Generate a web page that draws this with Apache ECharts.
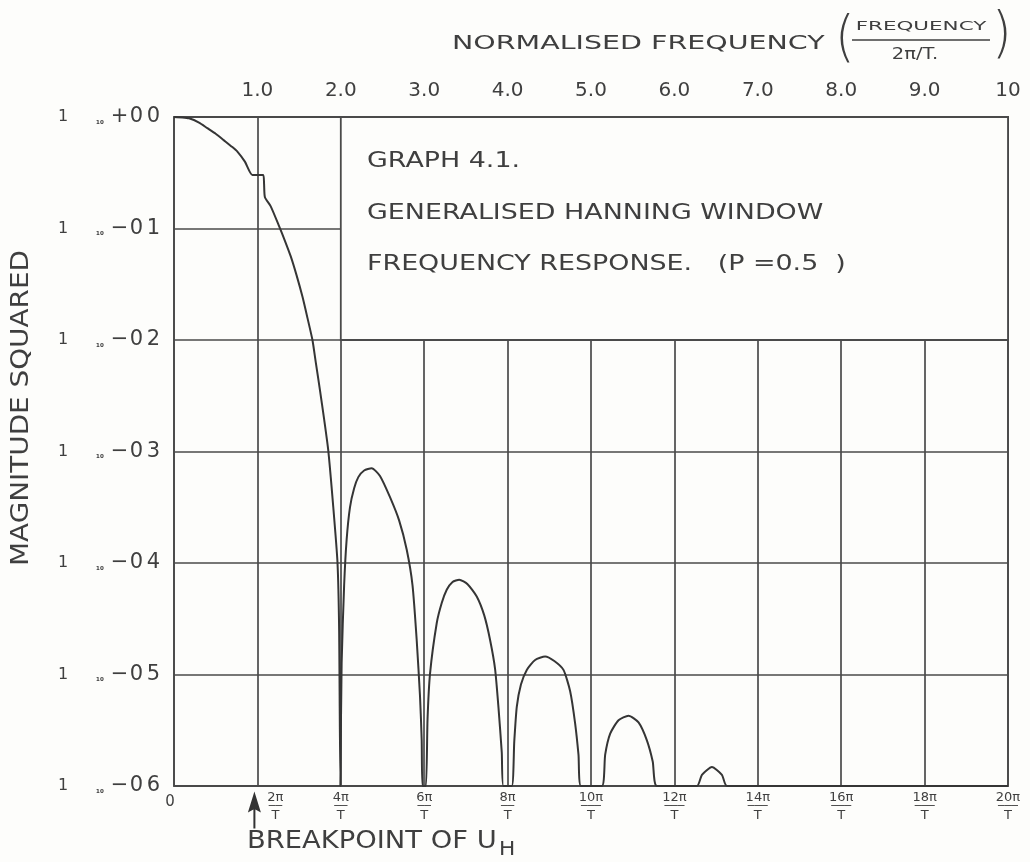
<!DOCTYPE html>
<html>
<head>
<meta charset="utf-8">
<script src="https://cdn.jsdelivr.net/npm/echarts@6/dist/echarts.min.js"></script>
<style>
  html, body { margin: 0; padding: 0; background: #fdfdfb; }
  #chart { width: 1030px; height: 862px; }
</style>
</head>
<body>
<div id="chart"></div>
<script>
// Normalised frequency (units of 2π/T) and magnitude squared of the window response
const freq = [
  0.00, 0.10, 0.18, 0.30, 0.40, 0.50, 0.60, 0.70, 0.76, 0.85, 0.94,
  1.07, 1.08, 1.09, 1.16, 1.26, 1.33, 1.40, 1.47, 1.54, 1.60, 1.66, 1.70,
  1.75, 1.80, 1.85, 1.91, 1.96, 1.98, 1.995, 2.00,
  2.01, 2.04, 2.07, 2.11, 2.16, 2.21, 2.28, 2.37, 2.47, 2.59, 2.70, 2.79,
  2.86, 2.91, 2.95, 2.97, 2.98,
  3.02, 3.04, 3.07, 3.15, 3.21, 3.27, 3.34, 3.42, 3.52, 3.63, 3.72, 3.79,
  3.85, 3.89, 3.93, 3.95,
  4.05, 4.08, 4.11, 4.16, 4.23, 4.33, 4.45, 4.56, 4.67, 4.75, 4.81, 4.85, 4.88,
  5.13, 5.17, 5.23, 5.33, 5.45, 5.57, 5.67, 5.74, 5.79,
  6.27, 6.33, 6.45, 6.57, 6.63,
  10.00
];
const magSq = [
  1.0, 0.991, 0.973, 0.891, 0.794, 0.708, 0.617, 0.537, 0.490, 0.398, 0.302,
  0.302, 0.251, 0.191, 0.158, 0.105, 0.0776, 0.0562, 0.0380, 0.0245, 0.0158, 0.0100, 0.00631,
  0.00355, 0.00195, 0.00102, 3.16e-4, 1.02e-4, 2.51e-5, 1e-6, 1e-6,
  1.26e-5, 6.31e-5, 1.62e-4, 3.16e-4, 4.68e-4, 5.89e-4, 6.76e-4, 7.08e-4, 6.03e-4, 3.89e-4, 2.40e-4, 1.32e-4,
  6.31e-5, 2.04e-5, 6.31e-6, 2.57e-6, 1e-6,
  1e-6, 3.98e-6, 1.02e-5, 2.88e-5, 4.37e-5, 5.75e-5, 6.76e-5, 7.08e-5, 6.46e-5, 5.01e-5, 3.39e-5, 2.04e-5,
  1.12e-5, 5.13e-6, 2.00e-6, 1e-6,
  1e-6, 2.51e-6, 5.13e-6, 8.13e-6, 1.10e-5, 1.35e-5, 1.45e-5, 1.32e-5, 1.10e-5, 7.08e-6, 3.63e-6, 1.91e-6, 1e-6,
  1e-6, 1.91e-6, 2.95e-6, 3.89e-6, 4.27e-6, 3.72e-6, 2.57e-6, 1.66e-6, 1e-6,
  1e-6, 1.26e-6, 1.48e-6, 1.26e-6, 1e-6,
  1e-6
];

// Tick labels
const topTickLabels = ['', '1.0', '2.0', '3.0', '4.0', '5.0', '6.0', '7.0', '8.0', '9.0', '10'];
const bottomNumerators = ['0', '2π', '4π', '6π', '8π', '10π', '12π', '14π', '16π', '18π', '20π'];
const bottomDenominator = 'T';
const yExponentLabels = { '-6': '−06', '-5': '−05', '-4': '−04', '-3': '−03', '-2': '−02', '-1': '−01', '0': '+00' };

// Breakpoint of U_H, in normalised frequency
const breakpoint = 1.0;

const INK = '#3f3f3f';
const LINE = '#4a4a4a';
const PAPER = '#fdfdfb';
const FONT = '"DejaVu Sans", "Liberation Sans", sans-serif';

const chart = echarts.init(document.getElementById('chart'));

const fracRich = {
  n: { fontSize: 13, fontFamily: FONT, color: INK, lineHeight: 13 },
  b: { fontSize: 11, fontFamily: FONT, color: INK, lineHeight: 5 },
  d: { fontSize: 13, fontFamily: FONT, color: INK, lineHeight: 13 },
  ns: { fontSize: 13, fontFamily: FONT, color: INK, lineHeight: 13, padding: [0, 0, 0, 36] },
  bs: { fontSize: 11, fontFamily: FONT, color: INK, lineHeight: 5, padding: [0, 0, 0, 36] },
  ds: { fontSize: 13, fontFamily: FONT, color: INK, lineHeight: 13, padding: [0, 0, 0, 36] },
  z: { fontSize: 15, fontFamily: FONT, color: INK, lineHeight: 17, padding: [6, 8, 0, 0] }
};

// Exponent characters are set on a fixed pitch, like plotter lettering
function spreadExponent(s) {
  return Array.from(s).map(ch => '{e|' + ch + '}').join('');
}

const option = {
  backgroundColor: PAPER,
  animation: false,
  grid: {
    left: 174, top: 117, width: 834, height: 669,
    show: true, borderColor: LINE, borderWidth: 1.8, backgroundColor: 'transparent'
  },
  xAxis: [
    {
      type: 'value', position: 'bottom', min: 0, max: 10, interval: 1,
      axisLine: { show: false }, axisTick: { show: false },
      splitLine: { show: true, lineStyle: { color: LINE, width: 1.7 } },
      axisLabel: {
        margin: 5,
        showMinLabel: true, showMaxLabel: true,
        formatter: function (v) {
          const i = Math.round(v);
          if (i === 0) return '{z|' + bottomNumerators[0] + '}';
          const bar = '─'.repeat(Math.max(2, bottomNumerators[i].length));
          if (i === breakpoint) return '{ns|' + bottomNumerators[i] + '}\n{bs|' + bar + '}\n{ds|' + bottomDenominator + '}';
          return '{n|' + bottomNumerators[i] + '}\n{b|' + bar + '}\n{d|' + bottomDenominator + '}';
        },
        rich: fracRich
      }
    },
    {
      type: 'value', position: 'top', min: 0, max: 10, interval: 1,
      axisLine: { show: false }, axisTick: { show: false }, splitLine: { show: false },
      axisLabel: {
        margin: 16, fontSize: 20, fontFamily: FONT, color: INK,
        showMinLabel: true, showMaxLabel: true,
        formatter: function (v) { return topTickLabels[Math.round(v)]; }
      }
    }
  ],
  yAxis: {
    type: 'log', logBase: 10, min: 1e-6, max: 1, interval: 1,
    axisLine: { show: false }, axisTick: { show: false },
    splitLine: { show: true, lineStyle: { color: LINE, width: 1.7 } },
    axisLabel: {
      margin: 12,
      formatter: function (v) {
        const e = Math.round(Math.log10(v));
        return '{one|1}{ten|₁₀}' + spreadExponent(yExponentLabels[String(e)]);
      },
      rich: {
        one: { fontSize: 16, fontFamily: FONT, color: INK, width: 38, align: 'left' },
        ten: { fontSize: 9, fontFamily: FONT, fontWeight: 'bold', color: INK, width: 15, align: 'left', padding: [9, 0, 0, 0] },
        e: { fontSize: 21, fontFamily: FONT, color: INK, width: 17, align: 'center' }
      }
    }
  },
  series: [
    {
      type: 'line',
      xAxisIndex: 0,
      data: freq.map((f, i) => [f, magSq[i]]),
      showSymbol: false,
      smooth: 0.2,
      lineStyle: { color: '#353535', width: 2 },
      z: 3,
      markArea: {
        silent: true,
        itemStyle: { color: PAPER, borderColor: LINE, borderWidth: 1.8 },
        data: [[{ coord: [2, 1e-2] }, { coord: [10, 1] }]]
      },
      markPoint: {
        silent: true,
        symbol: 'path://M6.5,0 L13,21 L7.5,18 L7.5,37 L5.5,37 L5.5,18 L0,21 Z',
        symbolSize: [13, 37],
        symbolOffset: [-3, 24],
        itemStyle: { color: '#333' },
        label: { show: false },
        data: [{ coord: [breakpoint, 1e-6] }]
      }
    }
  ],
  graphic: [
    // Top axis title
    { type: 'text', z: 100, x: 452, y: 44, scaleX: 1.5, style: { text: 'NORMALISED FREQUENCY', fontSize: 19, fontFamily: FONT, fill: INK, verticalAlign: 'middle' } },
    { type: 'text', z: 100, x: 835, y: 40, scaleX: 0.9, style: { text: '(', fontSize: 56, fontFamily: FONT, fontWeight: 200, fill: INK, verticalAlign: 'middle' } },
    { type: 'text', z: 100, x: 921, y: 27, scaleX: 1.65, style: { text: 'FREQUENCY', fontSize: 13, fontFamily: FONT, fill: INK, align: 'center', verticalAlign: 'middle' } },
    { type: 'line', z: 100, shape: { x1: 852, y1: 40, x2: 990, y2: 40 }, style: { stroke: INK, lineWidth: 1.3 } },
    { type: 'text', z: 100, x: 915, y: 55, scaleX: 1.3, style: { text: '2π/T.', fontSize: 15, fontFamily: FONT, fill: INK, align: 'center', verticalAlign: 'middle' } },
    { type: 'text', z: 100, x: 992, y: 36, scaleX: 0.9, style: { text: ')', fontSize: 56, fontFamily: FONT, fontWeight: 200, fill: INK, verticalAlign: 'middle' } },

    // Vertical axis title
    { type: 'text', z: 100, x: 22, y: 408, rotation: Math.PI / 2, scaleX: 1.16, style: { text: 'MAGNITUDE SQUARED', fontSize: 24, fontFamily: FONT, fill: INK, align: 'center', verticalAlign: 'middle' } },

    // Caption inside the box
    { type: 'text', z: 100, x: 367, y: 162, scaleX: 1.28, style: { text: 'GRAPH 4.1.', fontSize: 21, fontFamily: FONT, fill: INK, verticalAlign: 'middle' } },
    { type: 'text', z: 100, x: 367, y: 214, scaleX: 1.28, style: { text: 'GENERALISED HANNING WINDOW', fontSize: 21, fontFamily: FONT, fill: INK, verticalAlign: 'middle' } },
    { type: 'text', z: 100, x: 367, y: 265, scaleX: 1.28, style: { text: 'FREQUENCY RESPONSE.   (P =0.5  )', fontSize: 21, fontFamily: FONT, fill: INK, verticalAlign: 'middle' } },

    // Breakpoint annotation
    { type: 'text', z: 100, x: 247, y: 842, scaleX: 1.14, style: {
      text: '{m|BREAKPOINT OF U}{s|H}',
      rich: {
        m: { fontSize: 24, fontFamily: FONT, fill: INK },
        s: { fontSize: 19, fontFamily: FONT, fill: INK, padding: [16, 0, 0, 2] }
      },
      verticalAlign: 'middle'
    } }
  ]
};

chart.setOption(option);
</script>
</body>
</html>
